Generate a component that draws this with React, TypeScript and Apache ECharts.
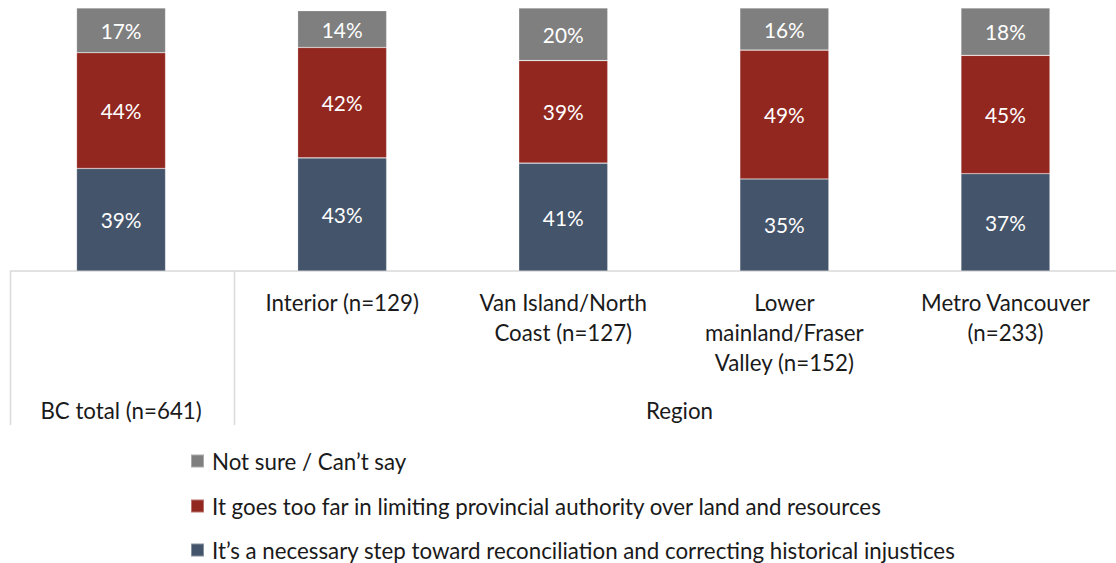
import React, { useEffect, useRef } from "react";
import * as echarts from "echarts";

const categories = [
  "BC total (n=641)",
  "Interior (n=129)",
  "Van Island/North\nCoast (n=127)",
  "Lower\nmainland/Fraser\nValley (n=152)",
  "Metro Vancouver\n(n=233)",
];
const groupLabel = "Region";
const seriesNames = [
  "It\u2019s a necessary step toward reconciliation and correcting historical injustices",
  "It goes too far in limiting provincial authority over land and resources",
  "Not sure / Can\u2019t say",
];
const necessary = [39, 43, 41, 35, 37];
const tooFar = [44, 42, 39, 49, 45];
const notSure = [17, 14, 20, 16, 18];
const colors = ["#44546a", "#922720", "#7f7f7f"];

const FONT = "Lato, 'Open Sans', sans-serif";
const AX_FS = 22.3;
const LEG_FS = 22.3;
const LBL_FS = 20.8;
const GRID_LEFT = 10.5;
const GRID_TOP = 8;
const GRID_W = 1115;
const GRID_H = 263;

export default function App() {
  const ref = useRef<HTMLDivElement>(null);
  useEffect(() => {
    if (!ref.current) return;
    const chart = echarts.init(ref.current, undefined, { renderer: "svg" });
    const values = [necessary, tooFar, notSure];
    const bandW = GRID_W / categories.length;
    const axisY = GRID_TOP + GRID_H;
    const legendOrder = [2, 1, 0];
    const legendTops = [445, 490, 534];
    chart.setOption({
      animation: false,
      textStyle: { fontFamily: FONT },
      grid: { left: GRID_LEFT, top: GRID_TOP, width: GRID_W, height: GRID_H, containLabel: false },
      legend: legendOrder.map((k, i) => ({
        orient: "vertical",
        left: 185,
        top: legendTops[i],
        padding: 5,
        itemWidth: 13,
        itemHeight: 13,
        itemGap: 0,
        icon: "rect",
        data: [seriesNames[k]],
        textStyle: { fontFamily: FONT, fontSize: LEG_FS, color: "#1a1a1a", padding: [0, 0, 0, 3] },
      })),
      xAxis: {
        type: "category",
        data: categories,
        boundaryGap: true,
        axisLine: { show: true, lineStyle: { color: "#d9d9d9", width: 1.5 } },
        axisTick: { show: false },
        axisLabel: {
          interval: 0,
          margin: 16,
          fontFamily: FONT,
          fontSize: AX_FS,
          lineHeight: 30,
          color: "#1a1a1a",
          verticalAlign: "top",
          formatter: (v: string, i: number) => (i === 0 ? `{bc|${v}}` : v),
          rich: {
            bc: { fontFamily: FONT, fontSize: AX_FS, lineHeight: 30, color: "#1a1a1a", padding: [216, 0, 0, 0] },
          },
        },
      },
      yAxis: { type: "value", min: 0, max: 100, show: false, splitLine: { show: false } },
      series: seriesNames.map((name, k) => ({
        name,
        type: "bar",
        stack: "total",
        barWidth: 89,
        data: values[k],
        itemStyle: { color: colors[k], borderColor: "rgba(255,255,255,0.35)", borderWidth: 0.6 },
        label: {
          show: true,
          position: "inside",
          formatter: "{c}%",
          color: "#ffffff",
          fontFamily: FONT,
          fontSize: LBL_FS,
        },
      })),
      graphic: [
        {
          type: "line",
          shape: { x1: GRID_LEFT, y1: axisY, x2: GRID_LEFT, y2: 425 },
          style: { stroke: "#d9d9d9", lineWidth: 1.5 },
        },
        {
          type: "line",
          shape: { x1: GRID_LEFT + bandW + 1, y1: axisY, x2: GRID_LEFT + bandW + 1, y2: 425 },
          style: { stroke: "#d9d9d9", lineWidth: 1.5 },
        },
        {
          type: "text",
          x: GRID_LEFT + bandW + (GRID_W - bandW) / 2,
          y: 410,
          style: {
            text: groupLabel,
            fontFamily: FONT,
            fontSize: AX_FS,
            fill: "#1a1a1a",
            textAlign: "center",
            textVerticalAlign: "middle",
          },
        },
      ],
    });
    return () => chart.dispose();
  }, []);
  return (
    <div
      ref={ref}
      style={{ position: "absolute", left: 0, top: 0, width: 1116, height: 563, background: "#fff" }}
    />
  );
}
